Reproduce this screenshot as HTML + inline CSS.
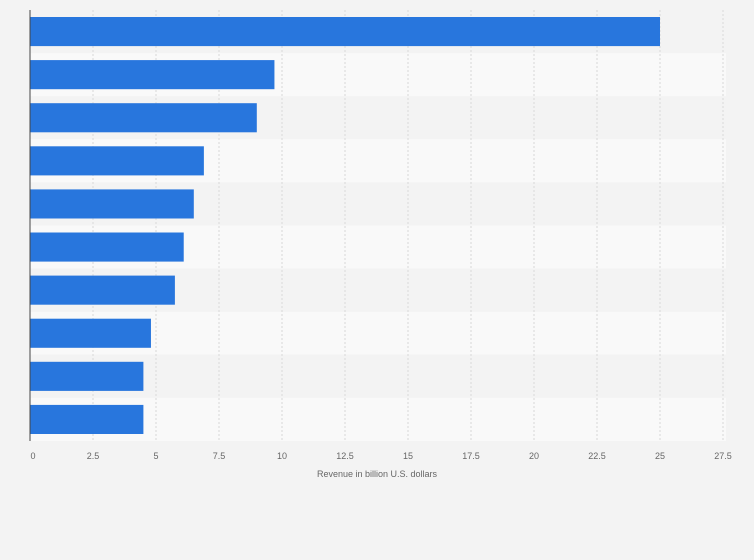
<!DOCTYPE html>
<html><head><meta charset="utf-8"><style>
body{margin:0;background:#f3f3f3;font-family:"Liberation Sans",sans-serif;}
svg{display:block}
</style></head><body>
<svg id="c" width="754" height="560"></svg>
<script>
const categories=["A","B","C","D","E","F","G","H","I","J"];
const values=[25,9.7,9.0,6.9,6.5,6.1,5.75,4.8,4.5,4.5];
const ticks=[0,2.5,5,7.5,10,12.5,15,17.5,20,22.5,25,27.5];
const tickLabels=["0","2.5","5","7.5","10","12.5","15","17.5","20","22.5","25","27.5"];
const svgEl=document.getElementById('c');
const NS="http://www.w3.org/2000/svg";
const xLeft=30,xRight=726,yTop=10,yBottom=441;
const xScale=v=>xLeft+v*(63/2.5);
const rowH=(yBottom-yTop)/categories.length;
function mk(t,a){const e=document.createElementNS(NS,t);for(const k in a)e.setAttribute(k,a[k]);svgEl.appendChild(e);return e;}
categories.forEach((c,i)=>{
 const r=mk('rect',{x:xLeft,y:yTop+i*rowH,width:xRight-xLeft,height:rowH,fill:i%2?'#f9f9f9':'#f3f3f3'});
 
 
});
ticks.forEach((t,i)=>{
 if(i>0){const g=mk('line',{x1:xScale(t),x2:xScale(t),y1:yTop,y2:yBottom,stroke:'#d8d8d8','stroke-dasharray':'2,2'});
 
 }
 const tx=mk('text',{x:i==0?xScale(t)+3:xScale(t),y:459,'text-anchor':'middle','font-size':'9',fill:'#666'});
 tx.textContent=tickLabels[i];
 
 
});
values.forEach((v,i)=>{
 const b=mk('rect',{x:xLeft,y:yTop+i*rowH+7,width:xScale(v)-xLeft,height:rowH-14,fill:'#2876dd'});
 
 
});
const ax=mk('line',{x1:xLeft,x2:xLeft,y1:yTop,y2:yBottom,stroke:'#444','stroke-width':1});


const ttl=mk('text',{x:377,y:477,'text-anchor':'middle','font-size':'9',fill:'#666'});
ttl.textContent='Revenue in billion U.S. dollars';


</script>
</body></html>
